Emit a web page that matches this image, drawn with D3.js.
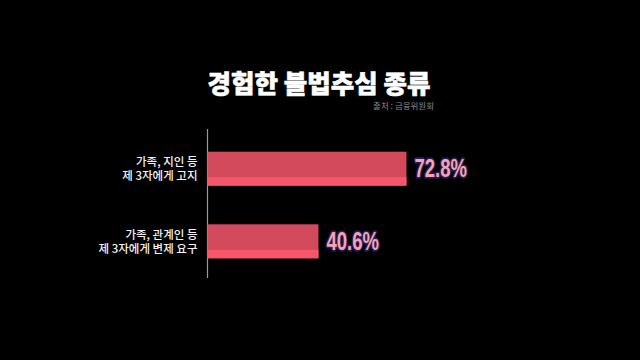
<!DOCTYPE html>
<html><head><meta charset="utf-8">
<script src="https://cdn.jsdelivr.net/npm/d3@7/dist/d3.min.js"></script>
<style>html,body{margin:0;padding:0;background:#000;}svg{display:block;}</style>
</head><body>
<svg id="c" width="640" height="360"></svg>
<script>
const title = "경험한 불법추심 종류";
const source = "출처 : 금융위원회";
const categories = [["가족, 지인 등", "제 3자에게 고지"], ["가족, 관계인 등", "제 3자에게 변제 요구"]];
const values = [72.8, 40.6];
const valueLabels = ["72.8%", "40.6%"];

const svg = d3.select("#c");
svg.append("rect").attr("width",640).attr("height",360).attr("fill","#000");

const x = d3.scaleLinear().domain([0,100]).range([207.5, 480.8]);
const y = d3.scaleBand().domain(d3.range(values.length)).range([115.4, 294.6]).paddingInner(0.532).paddingOuter(0.5);

svg.append("text").attr("x",319).attr("y",93).attr("text-anchor","middle")
  .attr("font-family","'Noto Sans CJK KR', sans-serif").attr("font-weight",900)
  .attr("font-size",25.5).attr("fill","#fff").attr("stroke","#fff").attr("stroke-width",0.6)
  .text(title);
svg.append("text").attr("x",434).attr("y",109).attr("text-anchor","end")
  .attr("font-family","'Noto Sans CJK KR', sans-serif").attr("font-size",8.5)
  .attr("fill","#8a8a8a").text(source);

svg.append("line").attr("x1",207.5).attr("x2",207.5).attr("y1",129).attr("y2",278)
  .attr("stroke","#9a9a9a").attr("stroke-width",1.2);

const g = svg.append("g");
const bw = y.bandwidth();
values.forEach((v,i)=>{
  const y0 = y(i);
  g.append("rect").attr("x",x(0)).attr("y",y0).attr("width",x(v)-x(0)).attr("height",bw)
    .attr("fill","#d34a5d");
  g.append("rect").attr("x",x(0)).attr("y",y0+bw*0.75).attr("width",x(v)-x(0)).attr("height",bw*0.25)
    .attr("fill","#f6566b");
  const t = g.append("text").attr("text-anchor","end")
      .attr("font-family","'Noto Sans CJK KR', sans-serif").attr("font-size",11.5)
      .attr("font-weight",500).attr("fill","#f2f2f2");
  categories[i].forEach((line,j)=>{
    t.append("tspan").attr("x",x(0)-10).attr("y",y0+bw/2 + (j===0?-2.5:11.5)).text(line);
  });
  g.append("g").attr("transform",`translate(${x(v)+8},${y0+bw/2+8.5}) scale(0.74,1)`)
    .append("text")
    .attr("font-family","'Liberation Sans', Arial, sans-serif").attr("font-weight",700)
    .attr("font-size",25).attr("fill","#f7a3ae").attr("stroke","#231c55").attr("stroke-width",3.5)
    .attr("paint-order","stroke").attr("stroke-linejoin","round")
    .text(valueLabels[i]);
});
</script>
</body></html>
